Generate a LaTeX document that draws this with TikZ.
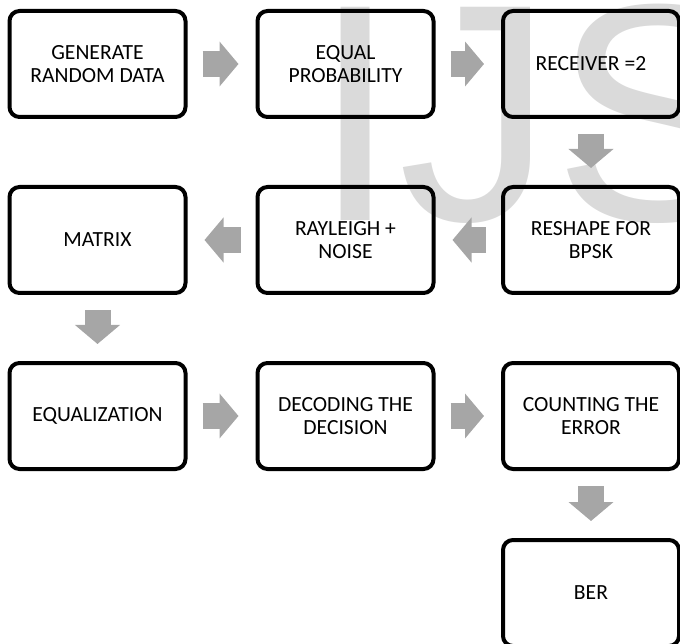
\documentclass[tikz,border=0pt]{standalone}
\usepackage{fontspec}
\setmainfont{Carlito}
\newfontfamily\wmfont{Liberation Sans}
\usetikzlibrary{arrows.meta}
\definecolor{arrowgray}{RGB}{166,166,166}
\definecolor{wmgray}{RGB}{218,218,218}
\tikzset{
  stepbox/.style={draw=black, line width=4pt, rounded corners=10pt,
    minimum width=176pt, minimum height=106pt, inner sep=0pt,
    align=center, font=\fontsize{21.6}{23}\selectfont},
  blockarrow/.style={draw=arrowgray, line width=26pt,
    -{Triangle[length=19pt,width=44pt]},
    shorten <=15pt, shorten >=17pt}
}
\begin{document}
\begin{tikzpicture}[x=1pt,y=-1pt]
\useasboundingbox (0,0) rectangle (680,644);
\begin{scope}
  \clip (0,0) rectangle (680,644);
  \node[anchor=base west, inner sep=0pt, text=wmgray,
        font=\wmfont\fontsize{310}{310}\selectfont] (wm) at (312,221) {IJS};
\end{scope}
\node[stepbox] (b1) at (97.5,64) {GENERATE\\RANDOM DATA};
\node[stepbox] (b2) at (345.5,64) {EQUAL\\PROBABILITY};
\node[stepbox] (b3) at (591,64) {RECEIVER =2};
\node[stepbox] (b4) at (97.5,240) {MATRIX};
\node[stepbox] (b5) at (345.5,240) {RAYLEIGH +\\NOISE};
\node[stepbox] (b6) at (591,240) {RESHAPE FOR\\BPSK};
\node[stepbox] (b7) at (97.5,416) {EQUALIZATION};
\node[stepbox] (b8) at (345.5,416) {DECODING THE\\DECISION};
\node[stepbox] (b9) at (591,416) {COUNTING THE\\ERROR};
\node[stepbox] (b10) at (591,593) {BER};
\draw[blockarrow] (b1) -- (b2);
\draw[blockarrow] (b2) -- (b3);
\draw[blockarrow] (b3) -- (b6);
\draw[blockarrow] (b6) -- (b5);
\draw[blockarrow] (b5) -- (b4);
\draw[blockarrow] (b4) -- (b7);
\draw[blockarrow] (b7) -- (b8);
\draw[blockarrow] (b8) -- (b9);
\draw[blockarrow] (b9) -- (b10);
\end{tikzpicture}
\end{document}
